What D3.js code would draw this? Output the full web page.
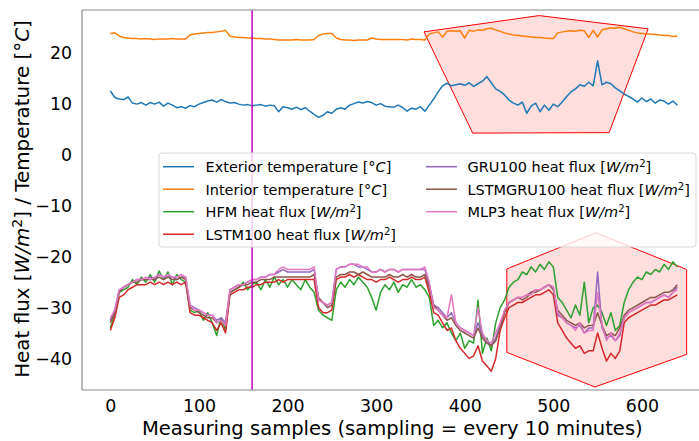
<!DOCTYPE html>
<html><head><meta charset="utf-8">
<script src="https://cdn.jsdelivr.net/npm/d3@7"></script>
<style>
html,body{margin:0;padding:0;background:#fff;}
svg{display:block;font-family:"DejaVu Sans",sans-serif;}
</style></head>
<body><svg id="chart" width="699" height="441"></svg>
<script>
// sample index step = 5 (x = 0..640)
const sampleStep = 5;
const exterior = [
12.6,11.3,11.0,10.9,11.4,10.2,10.0,10.3,9.8,10.3,
10.0,10.4,9.6,10.2,9.8,9.3,9.5,9.2,9.7,9.5,
10.0,10.3,10.6,10.8,10.4,10.9,10.5,10.2,10.3,10.0,
9.8,9.9,9.7,9.8,9.9,9.6,9.8,9.7,8.5,9.5,
9.3,9.0,9.4,8.9,9.3,8.6,8.0,7.4,7.8,8.5,
8.2,9.0,9.3,9.0,9.8,10.1,10.4,10.2,10.5,10.3,
9.8,10.1,9.6,9.5,9.4,9.8,9.3,8.6,9.2,9.0,
9.5,8.6,9.8,11.0,12.4,13.6,14.1,13.6,13.8,14.0,
13.7,14.2,13.5,14.0,14.5,15.4,14.2,13.0,12.5,11.8,
10.8,10.2,9.8,10.4,8.2,9.6,10.2,8.5,9.8,8.8,
10.0,9.5,10.4,11.5,12.4,13.0,13.8,13.5,14.3,13.6,
18.5,13.8,14.3,14.0,13.2,12.6,12.0,11.5,11.0,10.4,
11.2,10.5,11.0,10.2,10.8,10.6,10.0,10.6,9.8];
const interior = [
23.9,24.0,23.4,23.1,23.0,22.9,22.9,22.8,22.9,22.8,
22.7,22.8,22.8,22.8,22.9,22.8,22.8,22.8,23.6,23.8,
23.9,24.0,24.1,24.1,24.2,24.3,24.5,23.4,23.2,23.1,
23.1,23.0,23.0,22.9,22.9,22.8,22.8,22.7,22.6,22.6,
22.6,22.6,22.7,22.6,22.6,22.6,22.7,23.5,23.8,23.9,
23.9,23.0,22.7,22.6,22.6,22.5,22.6,22.6,22.6,23.0,
22.8,22.7,22.7,22.7,22.7,22.7,22.7,22.6,22.8,22.7,
22.7,22.6,23.8,24.0,24.2,23.2,24.3,24.4,24.3,24.4,
23.0,24.5,24.3,24.6,24.5,24.8,24.9,24.6,24.3,24.0,
23.8,23.6,23.5,23.4,23.3,23.2,23.1,23.1,23.0,22.9,
22.9,24.0,24.2,24.3,24.4,24.3,24.5,24.4,23.1,24.5,
23.2,24.6,24.8,25.0,24.9,25.1,24.8,24.5,24.2,24.0,
23.9,23.8,23.8,23.7,23.6,23.5,23.5,23.3,23.4];
const hfm = [
-34.0,-31.5,-27.0,-26.5,-26.0,-24.5,-25.5,-24.0,-25.0,-23.5,
-25.0,-22.8,-24.5,-23.0,-25.5,-23.5,-24.5,-25.0,-30.5,-31.0,
-30.5,-32.5,-31.0,-33.0,-35.5,-32.0,-34.5,-27.0,-26.5,-26.0,
-25.0,-26.5,-25.5,-25.0,-26.5,-24.5,-26.0,-24.0,-25.5,-24.5,
-26.0,-24.5,-25.5,-26.5,-24.5,-26.0,-27.0,-30.5,-31.5,-32.0,
-32.5,-26.5,-25.0,-26.0,-24.5,-25.5,-24.0,-25.0,-26.0,-28.0,
-30.5,-27.0,-25.5,-26.5,-25.0,-27.0,-25.5,-26.0,-24.5,-26.0,
-25.5,-26.5,-28.0,-33.5,-32.5,-34.0,-33.0,-35.0,-36.5,-35.0,
-38.0,-36.5,-37.0,-28.5,-39.0,-36.0,-38.5,-33.0,-30.0,-28.5,
-26.0,-25.0,-24.5,-23.0,-23.5,-22.0,-23.0,-21.5,-22.5,-21.0,
-22.0,-28.0,-29.0,-30.5,-32.0,-29.5,-31.5,-25.0,-33.0,-30.0,
-29.5,-31.0,-33.5,-31.0,-34.5,-33.5,-29.0,-26.5,-25.0,-24.0,
-24.5,-23.0,-23.5,-22.5,-23.0,-21.5,-22.5,-21.0,-22.0];
const lstm100 = [
-34.5,-32.0,-28.0,-27.5,-26.5,-26.0,-25.5,-25.5,-25.5,-25.0,
-25.5,-25.0,-25.5,-25.0,-25.5,-25.0,-25.5,-25.0,-31.0,-31.5,
-31.5,-32.0,-32.5,-33.0,-34.5,-33.0,-35.0,-27.5,-27.0,-26.5,
-26.5,-26.0,-26.0,-25.5,-25.5,-25.0,-25.0,-25.0,-24.5,-25.0,
-24.5,-24.5,-24.5,-24.5,-24.5,-24.5,-24.5,-30.0,-31.0,-31.0,
-30.5,-24.5,-24.0,-24.0,-23.5,-24.0,-23.5,-24.0,-24.5,-24.5,
-25.0,-24.5,-24.5,-24.0,-24.5,-25.0,-24.5,-24.5,-24.0,-24.5,
-24.5,-24.0,-27.0,-31.0,-31.5,-33.0,-34.5,-34.0,-36.5,-38.0,
-39.0,-40.0,-39.5,-37.5,-40.5,-41.5,-42.5,-40.0,-34.5,-32.0,
-30.0,-29.5,-29.0,-29.0,-28.5,-28.0,-27.5,-27.5,-27.0,-26.5,
-27.5,-33.0,-34.5,-36.0,-37.0,-38.0,-37.5,-39.0,-38.5,-38.5,
-35.0,-38.0,-40.5,-39.0,-40.0,-38.5,-33.0,-32.0,-31.5,-31.0,
-30.5,-30.0,-29.5,-29.5,-29.0,-28.5,-28.5,-28.0,-27.5];
const gru100 = [
-32.5,-30.5,-26.5,-26.0,-25.5,-25.0,-24.5,-24.5,-24.5,-24.0,
-24.5,-23.5,-24.0,-24.0,-24.0,-24.5,-24.0,-24.0,-29.5,-30.0,
-30.5,-31.0,-31.5,-31.5,-32.5,-32.0,-33.0,-26.5,-26.0,-25.5,
-25.5,-25.0,-24.5,-24.5,-24.0,-24.0,-23.5,-23.5,-23.0,-22.5,
-23.0,-23.0,-23.0,-23.0,-23.0,-23.0,-22.5,-28.5,-29.0,-29.5,
-29.0,-22.5,-22.0,-22.0,-21.5,-21.5,-22.0,-22.0,-22.5,-23.0,
-23.0,-22.5,-23.0,-22.5,-22.5,-23.0,-22.5,-22.5,-22.5,-22.5,
-22.5,-22.5,-25.5,-29.5,-30.0,-31.0,-32.0,-31.0,-33.0,-34.0,
-34.5,-35.0,-35.5,-33.0,-35.5,-36.5,-37.5,-36.0,-33.5,-30.5,
-29.0,-28.5,-28.0,-28.0,-27.5,-27.0,-26.5,-26.5,-26.0,-25.5,
-26.0,-31.5,-32.0,-33.0,-33.5,-34.0,-33.5,-35.0,-34.0,-34.0,
-23.0,-34.0,-36.0,-35.5,-36.5,-35.5,-32.0,-31.0,-30.5,-30.0,
-29.5,-29.0,-29.0,-28.5,-28.0,-27.5,-28.0,-27.0,-26.0];
const lstmgru100 = [
-33.0,-31.0,-27.0,-26.0,-25.5,-25.0,-25.0,-24.5,-24.5,-24.5,
-24.5,-24.0,-24.5,-24.0,-24.5,-24.5,-24.0,-24.5,-30.0,-30.5,
-31.0,-31.5,-32.0,-32.0,-33.0,-32.5,-33.5,-27.0,-26.5,-26.0,
-25.5,-25.5,-25.0,-25.0,-24.5,-24.5,-24.5,-24.0,-24.0,-24.0,
-24.0,-24.0,-24.0,-24.0,-24.0,-24.0,-23.5,-28.0,-29.0,-30.0,
-29.5,-24.0,-23.5,-23.5,-23.0,-23.0,-23.5,-23.0,-23.5,-24.0,
-24.0,-24.0,-24.0,-23.5,-24.0,-24.0,-23.5,-24.0,-23.5,-24.0,
-24.0,-23.5,-26.0,-29.5,-30.5,-31.5,-32.5,-32.0,-33.5,-34.5,
-35.0,-35.5,-36.0,-34.0,-36.0,-37.0,-37.5,-36.5,-34.0,-31.0,
-29.0,-28.5,-28.0,-28.5,-28.0,-27.0,-27.0,-26.5,-26.0,-25.5,
-26.5,-30.5,-31.5,-32.5,-33.0,-33.5,-33.0,-34.0,-33.5,-33.5,
-31.0,-33.5,-35.5,-35.0,-35.5,-34.0,-31.5,-30.5,-30.0,-29.5,
-29.0,-28.5,-28.0,-28.0,-27.5,-27.0,-27.0,-26.5,-25.5];
const mlp3 = [
-32.0,-30.5,-26.5,-26.0,-25.5,-25.0,-24.5,-24.5,-24.0,-24.5,
-24.0,-23.5,-24.0,-23.5,-24.0,-24.0,-23.5,-24.0,-29.5,-30.5,
-30.5,-31.0,-31.5,-31.5,-33.0,-32.5,-33.5,-26.5,-26.0,-25.5,
-25.5,-25.0,-24.5,-24.5,-24.0,-24.0,-23.5,-23.5,-22.5,-22.0,
-22.5,-22.5,-22.5,-22.5,-22.5,-22.5,-22.0,-28.5,-29.0,-29.5,
-29.0,-22.5,-22.0,-22.0,-21.5,-21.5,-21.5,-22.0,-22.0,-23.0,
-23.0,-22.5,-23.0,-22.5,-22.5,-23.0,-22.5,-22.5,-22.5,-22.5,
-22.5,-22.0,-25.0,-30.0,-30.5,-31.5,-32.0,-27.5,-33.0,-34.0,
-34.5,-35.0,-35.5,-30.0,-35.0,-36.5,-37.0,-35.0,-33.0,-30.5,
-29.0,-28.5,-28.0,-28.0,-27.5,-27.5,-26.5,-26.5,-26.0,-25.5,
-26.0,-31.0,-32.0,-33.0,-33.5,-34.5,-33.0,-35.0,-34.5,-34.5,
-27.0,-33.5,-36.5,-35.0,-36.5,-35.0,-32.0,-31.0,-30.5,-30.0,
-29.5,-29.0,-29.0,-28.5,-28.0,-27.5,-28.0,-27.0,-26.5];

const seriesNames = ["Exterior temperature", "Interior temperature", "HFM heat flux", "LSTM100 heat flux",
  "GRU100 heat flux", "LSTMGRU100 heat flux", "MLP3 heat flux"];
const seriesUnits = ["C", "C", "W", "W", "W", "W", "W"];
const seriesColors = ["#1f77b4", "#ff7f0e", "#2ca02c", "#d62728", "#9467bd", "#8c564b", "#e377c2"];
const seriesData = [exterior, interior, hfm, lstm100, gru100, lstmgru100, mlp3];

const xTicks = [0, 100, 200, 300, 400, 500, 600];
const yTicks = [-40, -30, -20, -10, 0, 10, 20];
const splitSample = 160;
// highlighted regions (data coords)
const topRegion = [[354, 24.2], [484, 27.4], [607, 24.8], [563, 4.4], [409, 4.3]];
const bottomRegion = [[447.5, -22.4], [548, -15.3], [650.5, -22.5], [650.5, -39.2], [547, -45.6], [447.5, -38.8]];

const svg = d3.select("#chart");
const W = 699, H = 441;
const m = {left: 82, top: 10, right: 705.7, bottom: 390};
const x = d3.scaleLinear().domain([-32, 672]).range([m.left, m.right]);
const y = d3.scaleLinear().domain([-46.2, 28.5]).range([m.bottom, m.top]);

// scale a text's font-size so its rendered width matches the reference width
function fitWidth(sel, target) {
  const w = sel.node().getComputedTextLength();
  const fs = parseFloat(sel.attr("font-size"));
  if (w > 0) sel.attr("font-size", (fs * target / w).toFixed(2));
  return parseFloat(sel.attr("font-size"));
}

svg.append("defs").append("clipPath").attr("id", "clip")
  .append("rect").attr("x", m.left).attr("y", m.top).attr("width", m.right - m.left).attr("height", m.bottom - m.top);

const plot = svg.append("g").attr("clip-path", "url(#clip)");

[topRegion, bottomRegion].forEach(poly => {
  plot.append("polygon")
    .attr("points", poly.map(p => [x(p[0]), y(p[1])].join(",")).join(" "))
    .attr("fill", "rgba(255,0,0,0.13)")
    .attr("stroke", "#ff0000").attr("stroke-width", 1);
});

const line = d3.line().x((d, i) => x(i * sampleStep)).y(d => y(d));
seriesData.forEach((s, k) => {
  plot.append("path").datum(s).attr("d", line)
    .attr("fill", "none").attr("stroke", seriesColors[k]).attr("stroke-width", 1.5)
    .attr("stroke-linejoin", "round");
});

plot.append("line").attr("x1", x(splitSample)).attr("x2", x(splitSample))
  .attr("y1", m.top).attr("y2", m.bottom).attr("stroke", "#bf00bf").attr("stroke-width", 1.5);

const spine = "#8a8a8a";
svg.append("line").attr("x1", m.left).attr("x2", W).attr("y1", m.top).attr("y2", m.top).attr("stroke", spine).attr("stroke-width", 1.2);
svg.append("line").attr("x1", m.left).attr("x2", W).attr("y1", m.bottom).attr("y2", m.bottom).attr("stroke", spine).attr("stroke-width", 1.2);
svg.append("line").attr("x1", m.left).attr("x2", m.left).attr("y1", m.top).attr("y2", m.bottom).attr("stroke", spine).attr("stroke-width", 1.2);

// tick font size fitted so that "−10" is ~36.7px wide
const probe = svg.append("text").attr("font-size", 18).text("\u221210");
const tickFs = fitWidth(probe, 36.7);
probe.remove();

const xAxis = d3.axisBottom(x).tickValues(xTicks).tickSize(0).tickPadding(10).tickFormat(d3.format("d"));
const gx = svg.append("g").attr("transform", `translate(0,${m.bottom})`).call(xAxis);
gx.select(".domain").remove();
gx.selectAll("text").attr("font-size", tickFs).attr("font-family", "DejaVu Sans").attr("fill", "#000");

const yAxis = d3.axisLeft(y).tickValues(yTicks).tickSize(0).tickPadding(10).tickFormat(d3.format("d"));
const gy = svg.append("g").attr("transform", `translate(${m.left},0)`).call(yAxis);
gy.select(".domain").remove();
gy.selectAll("text").attr("font-size", tickFs).attr("font-family", "DejaVu Sans").attr("fill", "#000");

// axis labels
const xl = svg.append("text").attr("x", (m.left + m.right) / 2 - 1.5).attr("y", 435).attr("text-anchor", "middle")
  .attr("font-size", 20).text("Measuring samples (sampling = every 10 minutes)");
fitWidth(xl, 501);

const yl = svg.append("text").attr("transform", `translate(28.5,199) rotate(-90)`)
  .attr("text-anchor", "middle").attr("font-size", 20);
yl.append("tspan").text("Heat flux [");
yl.append("tspan").attr("font-style", "italic").text("W/m");
yl.append("tspan").attr("font-size", "0.7em").attr("dy", "-0.5em").text("2");
yl.append("tspan").attr("dy", "0.35em").text("] / Temperature [°");
yl.append("tspan").attr("font-style", "italic").text("C");
yl.append("tspan").text("]");
fitWidth(yl, 358);

// legend
const lg = svg.append("g");
lg.append("rect").attr("x", 159).attr("y", 153).attr("width", 537).attr("height", 94).attr("rx", 3)
  .attr("fill", "rgba(255,255,255,0.8)").attr("stroke", "#d8d8d8").attr("stroke-width", 1);
const rowY = [166.7, 189.2, 211.7, 234.2];
const legTexts = [];
seriesNames.forEach((name, k) => {
  const col = k < 4 ? 0 : 1;
  const row = k < 4 ? k : k - 4;
  const hx = col === 0 ? 163 : 426;
  const tx = col === 0 ? 205.5 : 467.5;
  const yy = rowY[row];
  lg.append("line").attr("x1", hx).attr("x2", hx + 31).attr("y1", yy).attr("y2", yy)
    .attr("stroke", seriesColors[k]).attr("stroke-width", 1.5);
  const t = lg.append("text").attr("x", tx).attr("y", yy + 5.3).attr("font-size", 15);
  if (seriesUnits[k] === "C") {
    t.append("tspan").text(name + " [°");
    t.append("tspan").attr("font-style", "italic").text("C");
    t.append("tspan").text("]");
  } else {
    t.append("tspan").text(name + " [");
    t.append("tspan").attr("font-style", "italic").text("W/m");
    t.append("tspan").attr("font-size", "0.7em").attr("dy", "-0.45em").text("2");
    t.append("tspan").attr("dy", "0.315em").text("]");
  }
  legTexts.push(t);
});
const legFs = fitWidth(legTexts[0], 186);
legTexts.forEach(t => t.attr("font-size", legFs));
</script></body></html>
